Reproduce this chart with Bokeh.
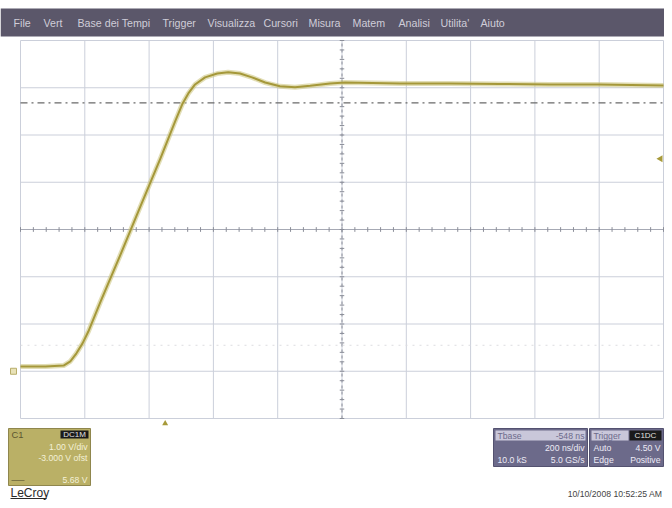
from bokeh.plotting import figure
from bokeh.models import Range1d
from bokeh.core.properties import value
from bokeh.embed import file_html
from bokeh.resources import INLINE

# ---- data ----
time_ns = [-450, -372, -316, -295, -276, -257, -239, -202, -139, -77, -15, 31, 53, 72, 93, 124,
           162, 196, 233, 270, 311, 357, 404, 451, 513, 559, 730, 885, 1041, 1196, 1351, 1550]
volts = [0.10, 0.10, 0.12, 0.21, 0.38, 0.59, 0.84, 1.46, 2.47, 3.49, 4.50, 5.29, 5.65, 5.88, 6.07, 6.22,
         6.30, 6.33, 6.30, 6.22, 6.11, 6.03, 6.01, 6.04, 6.09, 6.11, 6.09, 6.09, 6.08, 6.07, 6.07, 6.05]

menu_items = ["File", "Vert", "Base dei Tempi", "Trigger", "Visualizza", "Cursori",
              "Misura", "Matem", "Analisi", "Utilita'", "Aiuto"]
menu_x = [13, 43, 77, 162, 207, 263, 308, 352, 398, 440, 480]

t_left, t_div, n_tdiv = -450, 200, 10
v_bottom, v_div, n_vdiv = -1.0, 1.0, 8
cursor_level = 5.68
lower_cursor = 0.55
trigger_level = 4.50
trigger_time = 0
ground_level = 0.0

# ---- layout (pixels in the picture) ----
W, H = 664, 500
gx0, gx1 = 20, 663
gy0, gy1 = 40, 418

t_right = t_left + t_div * n_tdiv
v_top = v_bottom + v_div * n_vdiv
tpp = (t_right - t_left) / (gx1 - gx0)
vpp = (v_top - v_bottom) / (gy1 - gy0)

p = figure(width=W, height=H, output_backend="svg", toolbar_location=None,
           x_range=Range1d(0, W), y_range=Range1d(H, 0),
           min_border=0, min_border_left=0, min_border_right=0, min_border_top=0, min_border_bottom=0)
p.axis.visible = False
p.xgrid.visible = False
p.ygrid.visible = False
p.outline_line_color = None
p.background_fill_color = "white"
p.border_fill_color = "white"

p.extra_x_ranges = {"t": Range1d(t_left - gx0 * tpp, t_right + (W - gx1) * tpp)}
p.extra_y_ranges = {"v": Range1d(v_bottom - (H - gy1) * vpp, v_top + gy0 * vpp)}

F = value("Liberation Sans")

# ---- menu bar ----
p.quad(left=[0], right=[W], top=[8], bottom=[36], fill_color="#5b576a", line_color=None)
p.text(x=menu_x, y=[22] * len(menu_x), text=menu_items, text_font=F,
       text_font_size="8pt", text_color="#cfcdd8", text_baseline="middle")

# ---- graticule ----
gt = [t_left + t_div * i for i in range(n_tdiv + 1)]
gv = [v_bottom + v_div * i for i in range(n_vdiv + 1)]
p.segment(x0=gt, x1=gt, y0=[v_bottom] * len(gt), y1=[v_top] * len(gt),
          x_range_name="t", y_range_name="v", line_color="#cbcfda", line_width=1)
p.segment(x0=[t_left] * len(gv), x1=[t_right] * len(gv), y0=gv, y1=gv,
          x_range_name="t", y_range_name="v", line_color="#cbcfda", line_width=1)
t_mid = (t_left + t_right) / 2
v_mid = (v_bottom + v_top) / 2
p.segment(x0=[t_mid], x1=[t_mid], y0=[v_bottom], y1=[v_top], x_range_name="t", y_range_name="v",
          line_color="#8a8d98", line_width=1, line_dash="3 3")
p.segment(x0=[t_left], x1=[t_right], y0=[v_mid], y1=[v_mid], x_range_name="t", y_range_name="v",
          line_color="#a6a9b4", line_width=1)
mt = [t_left + t_div / 5 * i for i in range(n_tdiv * 5 + 1)]
p.segment(x0=mt, x1=mt, y0=[v_mid - 0.05] * len(mt), y1=[v_mid + 0.05] * len(mt),
          x_range_name="t", y_range_name="v", line_color="#8a8d98", line_width=1)
mv = [v_bottom + v_div / 5 * i for i in range(n_vdiv * 5 + 1)]
p.segment(x0=[t_mid - 7] * len(mv), x1=[t_mid + 7] * len(mv), y0=mv, y1=mv,
          x_range_name="t", y_range_name="v", line_color="#8a8d98", line_width=1)

# cursors
p.segment(x0=[t_left], x1=[t_right], y0=[cursor_level], y1=[cursor_level], x_range_name="t",
          y_range_name="v", line_color="#6a6a6a", line_width=1.2, line_dash="7 4 2 4")
p.segment(x0=[t_left], x1=[t_right], y0=[lower_cursor], y1=[lower_cursor], x_range_name="t",
          y_range_name="v", line_color="#dcdce0", line_width=1, line_dash="2 5")

# ---- trace ----
p.line(time_ns, volts, x_range_name="t", y_range_name="v", line_color="#cbc27a",
       line_width=5, line_alpha=0.55, line_join="round")
p.line(time_ns, volts, x_range_name="t", y_range_name="v", line_color="#a5983a",
       line_width=2, line_join="round")

# markers
p.scatter(x=[660], y=[trigger_level], y_range_name="v", marker="triangle",
          angle=1.5708, size=7, fill_color="#a79a3a", line_color=None)
p.scatter(x=[trigger_time], y=[423], x_range_name="t", marker="triangle",
          size=6, fill_color="#a79a3a", line_color=None)
p.scatter(x=[13], y=[ground_level], y_range_name="v", marker="square",
          size=6, fill_color="#e8e2b8", line_color="#b8ad6a")

# ---- C1 box ----
p.quad(left=[8], right=[90], top=[428], bottom=[485], fill_color="#bab066", line_color="#8f864d")
p.quad(left=[60], right=[88], top=[430], bottom=[438], fill_color="#1a1a1a", line_color=None)
p.text(x=[11], y=[434], text=["C1"], text_font=F, text_font_size="7pt",
       text_color="#5a5530", text_baseline="middle")
p.text(x=[74], y=[434], text=["DC1M"], text_font=F, text_font_size="6pt",
       text_color="#e0e0e0", text_baseline="middle", text_align="center")
p.text(x=[87, 87, 87], y=[446, 457, 479], text=["1.00 V/div", "-3.000 V ofst", "5.68 V"],
       text_font=F, text_font_size="6.5pt", text_color="#f4f1d8",
       text_baseline="middle", text_align="right")
p.segment(x0=[11], x1=[24], y0=[480], y1=[480], line_color="#7d7645", line_width=1)

# ---- Tbase box ----
p.quad(left=[493], right=[587], top=[428], bottom=[466], fill_color="#6c6a8a", line_color="#545270")
p.quad(left=[495], right=[585], top=[430], bottom=[440], fill_color="#c9c7da", line_color=None)
p.text(x=[497], y=[435], text=["Tbase"], text_font=F, text_font_size="6.5pt",
       text_color="#6c6a8a", text_baseline="middle")
p.text(x=[584], y=[435], text=["-548 ns"], text_font=F, text_font_size="6.5pt",
       text_color="#6c6a8a", text_baseline="middle", text_align="right")
p.text(x=[584, 584], y=[447, 459], text=["200 ns/div", "5.0 GS/s"], text_font=F,
       text_font_size="6.5pt", text_color="#eceaf6", text_baseline="middle", text_align="right")
p.text(x=[497], y=[459], text=["10.0 kS"], text_font=F, text_font_size="6.5pt",
       text_color="#eceaf6", text_baseline="middle")

# ---- Trigger box ----
p.quad(left=[589], right=[663], top=[428], bottom=[466], fill_color="#6c6a8a", line_color="#545270")
p.quad(left=[591], right=[628], top=[430], bottom=[440], fill_color="#c9c7da", line_color=None)
p.quad(left=[629], right=[661], top=[430], bottom=[440], fill_color="#1a1a1a", line_color=None)
p.text(x=[593], y=[435], text=["Trigger"], text_font=F, text_font_size="6.5pt",
       text_color="#6c6a8a", text_baseline="middle")
p.text(x=[645], y=[435], text=["C1DC"], text_font=F, text_font_size="6pt",
       text_color="#e0e0e0", text_baseline="middle", text_align="center")
p.text(x=[593, 593], y=[447, 459], text=["Auto", "Edge"], text_font=F,
       text_font_size="6.5pt", text_color="#eceaf6", text_baseline="middle")
p.text(x=[660, 660], y=[447, 459], text=["4.50 V", "Positive"], text_font=F,
       text_font_size="6.5pt", text_color="#eceaf6", text_baseline="middle", text_align="right")

# ---- footer ----
p.text(x=[10], y=[492], text=["LeCroy"], text_font=F, text_font_size="9pt",
       text_color="#2a2a2a", text_baseline="middle")
p.segment(x0=[10], x1=[46], y0=[498], y1=[498], line_color="#2a2a2a", line_width=1)
p.text(x=[662], y=[493], text=["10/10/2008 10:52:25 AM"], text_font=F,
       text_font_size="6.5pt", text_color="#444444", text_baseline="middle", text_align="right")

open("out.html", "w").write(file_html(p, INLINE))
